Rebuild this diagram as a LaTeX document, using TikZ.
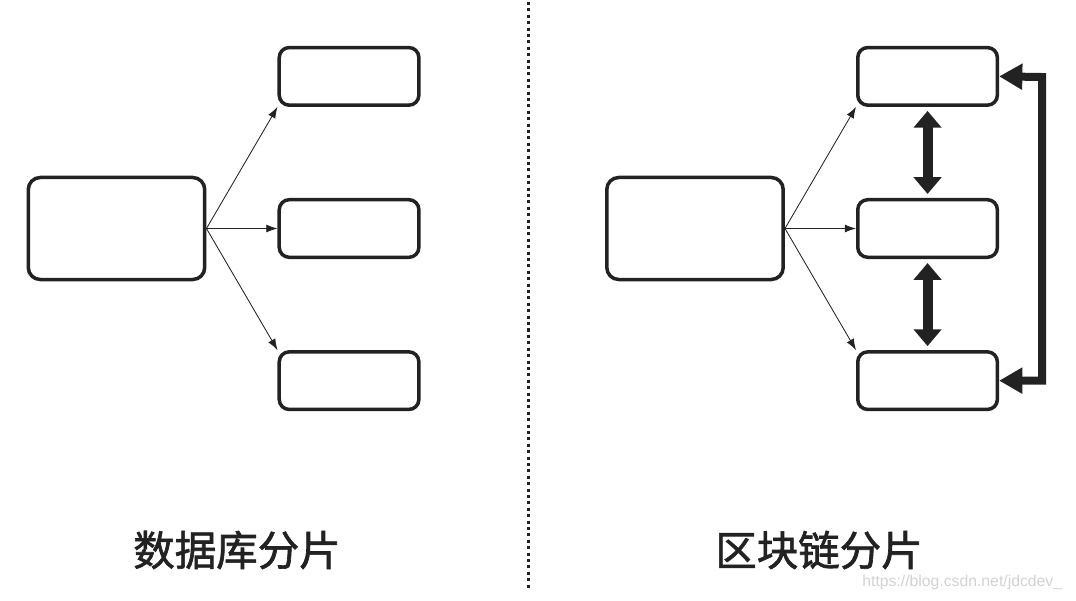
\documentclass[tikz,border=0pt]{standalone}
\usepackage{fontspec}
\newfontfamily\cjk{Noto Sans CJK SC}[FakeBold=1.6]
\newfontfamily\wmfont{Liberation Sans}
\usepackage{tikz}
\usetikzlibrary{arrows.meta, positioning, calc}
\definecolor{ink}{HTML}{222222}
\tikzstyle{bigbox} = [draw=ink, rectangle, rounded corners=0.3cm, line width=0.0875cm, minimum width=4.41cm, minimum height=2.55cm, inner sep=0pt]
\tikzstyle{shardbox} = [draw=ink, rectangle, rounded corners=0.25cm, line width=0.0875cm, minimum width=3.49cm, minimum height=1.44cm, inner sep=0pt]
\tikzstyle{link} = [draw=ink, line width=0.6pt, -{Latex[length=0.28cm, width=0.2cm]}]
\tikzstyle{swap} = [draw=ink, line width=0.25cm, {Triangle[length=0.42cm, width=0.68cm]}-{Triangle[length=0.42cm, width=0.68cm]}]
\tikzstyle{ring} = [draw=ink, line width=0.2cm, line join=miter, {Triangle[length=0.58cm, width=0.62cm]}-{Triangle[length=0.58cm, width=0.62cm]}]
\tikzstyle{title} = [font=\cjk\fontsize{29.5pt}{32pt}\selectfont, text=ink]

\begin{document}
\begin{tikzpicture}[x=0.025cm, y=-0.025cm, node distance=2.275cm and 1.775cm]
        \useasboundingbox (0,0) rectangle (1076,600);
        % database sharding
        \node[bigbox] (dbmain) at (116.5,228.5) {};
        \node[shardbox, right=of dbmain] (dbmid) {};
        \node[shardbox, above=of dbmid] (dbtop) {};
        \node[shardbox, below=of dbmid] (dbbot) {};
        \draw[link] (dbmain.east) -- (dbtop.south west);
        \draw[link] (dbmain.east) -- (dbmid.west);
        \draw[link] (dbmain.east) -- (dbbot.north west);
        \node[title] (dbtitle) at (237,550) {数据库分片};
        % separator
        \coordinate (septop) at (528,2);
        \coordinate (sepbot) at (528,590);
        \draw[ink, line width=0.075cm, dash pattern=on 0.075cm off 0.085cm] (septop) -- (sepbot);
        % blockchain sharding
        \node[bigbox] (bcmain) at (695,228.5) {};
        \node[shardbox, right=of bcmain] (bcmid) {};
        \node[shardbox, above=of bcmid] (bctop) {};
        \node[shardbox, below=of bcmid] (bcbot) {};
        \draw[link] (bcmain.east) -- (bctop.south west);
        \draw[link] (bcmain.east) -- (bcmid.west);
        \draw[link] (bcmain.east) -- (bcbot.north west);
        \draw[swap] ($(bctop.south)+(0,4)$) -- ($(bcmid.north)+(0,-4)$);
        \draw[swap] ($(bcmid.south)+(0,4)$) -- ($(bcbot.north)+(0,-4)$);
        \coordinate (ringtop) at (1042,77);
        \draw[ring] (bctop.east) -- (ringtop) |- (bcbot.east);
        \node[title] (bctitle) at (819,550) {区块链分片};
        \node[font=\wmfont\fontsize{11.2pt}{13pt}\selectfont, text=gray!35, anchor=east] (mark) at (1067,582) {https://blog.csdn.net/jdcdev\_};
    \end{tikzpicture}
\end{document}
